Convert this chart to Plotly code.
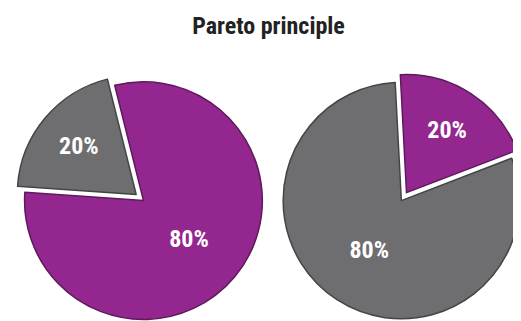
import plotly.graph_objects as go

# left pie: the vital few pulled out in gray
left_labels = ['Effects', 'Causes']
left_values = [80, 20]
left_colors = ['#93268F', '#6E6E70']

# right pie: same split, colours swapped
right_labels = ['Causes', 'Effects']
right_values = [20, 80]
right_colors = ['#93268F', '#6E6E70']

FONT = 'Liberation Sans Narrow, Roboto Condensed, Roboto, sans-serif'

fig = go.Figure()

fig.add_trace(go.Pie(
    labels=left_labels,
    values=left_values,
    sort=False,
    direction='clockwise',
    rotation=-14,
    pull=[0, 0.08],
    marker={'colors': left_colors,
            'line': {'color': ['#5e1a5b', '#444446'], 'width': 1.5}},
    texttemplate='%{percent:.0%}',
    textposition='inside',
    insidetextorientation='horizontal',
    textfont={'family': FONT, 'size': 24, 'color': 'white', 'weight': 'bold'},
    hoverinfo='label+percent',
    showlegend=False,
    domain={'x': [0.01, 0.51], 'y': [0, 0.80]},
))

fig.add_trace(go.Pie(
    labels=right_labels,
    values=right_values,
    sort=False,
    direction='clockwise',
    rotation=-3,
    pull=[0.08, 0],
    marker={'colors': right_colors,
            'line': {'color': ['#5e1a5b', '#444446'], 'width': 1.5}},
    texttemplate='%{percent:.0%}',
    textposition='inside',
    insidetextorientation='horizontal',
    textfont={'family': FONT, 'size': 24, 'color': 'white', 'weight': 'bold'},
    hoverinfo='label+percent',
    showlegend=False,
    domain={'x': [0.51, 1.0], 'y': [0, 0.80]},
))

fig.update_layout(
    width=521,
    height=321,
    paper_bgcolor='white',
    plot_bgcolor='white',
    margin={'l': 0, 'r': 0, 't': 0, 'b': 0},
    title={
        'text': '<b>Pareto principle</b>',
        'x': 0.5,
        'xanchor': 'center',
        'y': 0.944,
        'yref': 'container',
        'yanchor': 'middle',
        'font': {'family': FONT, 'size': 24, 'color': '#222222'},
    },
)

fig.write_html('out.html')
